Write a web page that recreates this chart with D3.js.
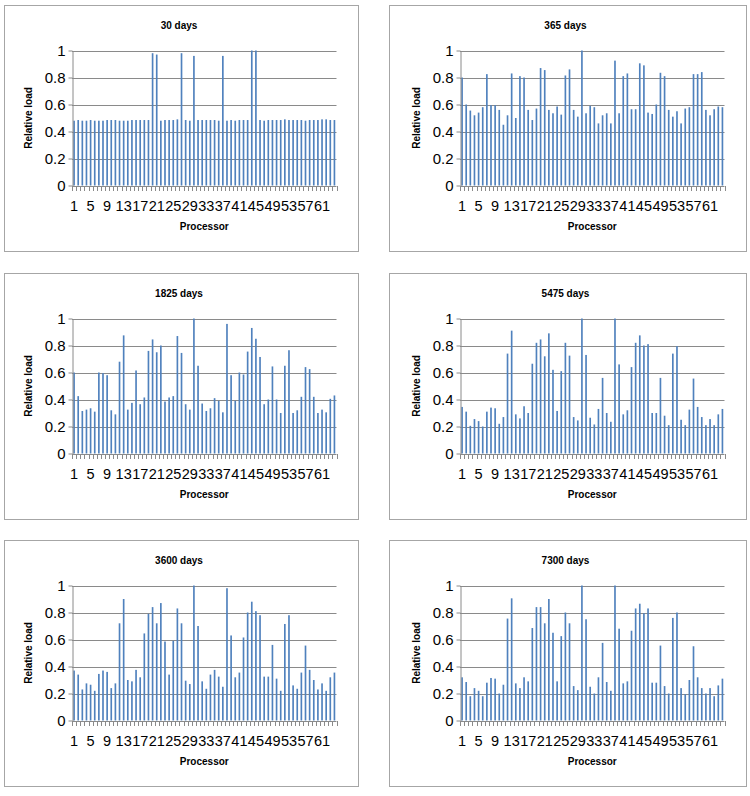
<!DOCTYPE html>
<html>
<head>
<meta charset="utf-8">
<script src="https://cdn.jsdelivr.net/npm/d3@7"></script>
<style>
    body { margin: 0; background: #fff; }
    svg text { font-family: "Liberation Sans", Arial, sans-serif; fill: #000; }
</style>
</head>
<body>
<script>
// categories
const processors = d3.range(1, 65);
const xTickLabels = [1, 5, 9, 13, 17, 21, 25, 29, 33, 37, 41, 45, 49, 53, 57, 61];
const yTicks = [0, 0.2, 0.4, 0.6, 0.8, 1];

// relative load per processor
const load30 = [0.48, 0.485, 0.48, 0.48, 0.485, 0.48, 0.48, 0.48, 0.485, 0.485, 0.485, 0.48, 0.48, 0.48, 0.485, 0.485,
    0.485, 0.485, 0.485, 0.98, 0.97, 0.48, 0.485, 0.485, 0.485, 0.49, 0.98, 0.485, 0.48, 0.96, 0.485, 0.485,
    0.485, 0.485, 0.485, 0.48, 0.96, 0.48, 0.485, 0.48, 0.485, 0.485, 0.485, 1, 1, 0.485, 0.48, 0.485,
    0.485, 0.485, 0.485, 0.49, 0.485, 0.485, 0.485, 0.485, 0.48, 0.485, 0.485, 0.485, 0.49, 0.49, 0.485, 0.485];
const load365 = [0.80, 0.60, 0.555, 0.52, 0.54, 0.58, 0.825, 0.595, 0.595, 0.56, 0.45, 0.52, 0.83, 0.50, 0.81, 0.80,
    0.56, 0.485, 0.57, 0.87, 0.855, 0.56, 0.535, 0.585, 0.525, 0.815, 0.86, 0.56, 0.51, 1.0, 0.535, 0.59,
    0.58, 0.46, 0.52, 0.535, 0.46, 0.925, 0.535, 0.81, 0.83, 0.565, 0.565, 0.905, 0.89, 0.54, 0.53, 0.60,
    0.835, 0.81, 0.56, 0.51, 0.55, 0.46, 0.57, 0.58, 0.825, 0.825, 0.84, 0.56, 0.52, 0.565, 0.585, 0.58];
const load1825 = [0.60, 0.425, 0.315, 0.325, 0.335, 0.31, 0.60, 0.595, 0.58, 0.32, 0.29, 0.68, 0.875, 0.325, 0.375, 0.615,
    0.365, 0.415, 0.76, 0.845, 0.75, 0.80, 0.385, 0.415, 0.425, 0.87, 0.745, 0.365, 0.325, 1.0, 0.65, 0.37,
    0.315, 0.335, 0.41, 0.39, 0.305, 0.96, 0.58, 0.39, 0.60, 0.585, 0.755, 0.93, 0.85, 0.715, 0.365, 0.40,
    0.645, 0.40, 0.30, 0.65, 0.765, 0.30, 0.32, 0.42, 0.64, 0.625, 0.42, 0.30, 0.325, 0.305, 0.405, 0.43];
const load5475 = [0.345, 0.31, 0.205, 0.255, 0.24, 0.20, 0.31, 0.34, 0.335, 0.22, 0.27, 0.74, 0.91, 0.29, 0.26, 0.35,
    0.30, 0.665, 0.82, 0.845, 0.72, 0.89, 0.62, 0.315, 0.61, 0.82, 0.725, 0.27, 0.245, 1.0, 0.73, 0.265,
    0.215, 0.33, 0.56, 0.30, 0.235, 1.0, 0.66, 0.29, 0.32, 0.64, 0.82, 0.875, 0.80, 0.81, 0.30, 0.30,
    0.56, 0.28, 0.21, 0.74, 0.795, 0.25, 0.21, 0.325, 0.555, 0.345, 0.27, 0.21, 0.255, 0.21, 0.29, 0.33];
const load3600 = [0.37, 0.34, 0.23, 0.275, 0.265, 0.22, 0.345, 0.37, 0.36, 0.24, 0.275, 0.72, 0.90, 0.30, 0.29, 0.375,
    0.32, 0.645, 0.79, 0.84, 0.72, 0.87, 0.585, 0.34, 0.59, 0.83, 0.72, 0.295, 0.27, 1.0, 0.70, 0.29,
    0.235, 0.34, 0.375, 0.325, 0.25, 0.98, 0.63, 0.32, 0.355, 0.615, 0.80, 0.88, 0.81, 0.78, 0.325, 0.325,
    0.56, 0.31, 0.22, 0.715, 0.78, 0.26, 0.235, 0.355, 0.555, 0.375, 0.30, 0.23, 0.275, 0.22, 0.32, 0.355];
const load7300 = [0.32, 0.285, 0.18, 0.24, 0.22, 0.18, 0.28, 0.315, 0.31, 0.20, 0.265, 0.755, 0.905, 0.275, 0.24, 0.32,
    0.29, 0.685, 0.84, 0.84, 0.72, 0.90, 0.65, 0.29, 0.625, 0.80, 0.72, 0.255, 0.225, 1.0, 0.75, 0.25,
    0.20, 0.32, 0.575, 0.285, 0.22, 1.0, 0.68, 0.275, 0.29, 0.665, 0.83, 0.865, 0.795, 0.83, 0.28, 0.28,
    0.555, 0.255, 0.20, 0.76, 0.80, 0.24, 0.195, 0.30, 0.55, 0.32, 0.24, 0.20, 0.24, 0.18, 0.26, 0.31];

const panels = [
    {title: "30 days", values: load30, col: 0, row: 0},
    {title: "365 days", values: load365, col: 1, row: 0},
    {title: "1825 days", values: load1825, col: 0, row: 1},
    {title: "5475 days", values: load5475, col: 1, row: 1},
    {title: "3600 days", values: load3600, col: 0, row: 2},
    {title: "7300 days", values: load7300, col: 1, row: 2}
];

// layout
const boxX = [4, 389], boxY = [5, 273, 540];
const boxW = [354, 357], boxH = 246;
const plotLeft = [68, 71], plotW = 264.5;
const plotTop = 45.5, plotH = 135;
const grey = "#8a8a8a";

const svg = d3.select("body").append("svg")
    .attr('width', 750)
    .attr('height', 796);

panels.forEach((p) => {
    const px = plotLeft[p.col];
    const g = svg.append("g")
        .attr('transform', `translate(${boxX[p.col]}, ${boxY[p.row]})`);

    g.append("rect")
        .attr('x', 0.5).attr('y', 0.5)
        .attr('width', boxW[p.col]).attr('height', boxH)
        .attr('fill', '#fff')
        .attr('stroke', '#a6a6a6');

    // Scales
    const x = d3.scaleBand()
        .domain(processors)
        .range([px, px + plotW])
        .paddingInner(0.6)
        .paddingOuter(0.3);

    const y = d3.scaleLinear()
        .domain([0, 1])
        .range([plotTop + plotH, plotTop]);

    // Gridlines
    g.selectAll("line.grid").data(yTicks).enter().append("line")
        .attr('class', 'grid')
        .attr('x1', px).attr('x2', px + plotW)
        .attr('y1', (d) => Math.round(y(d)) + 0.5)
        .attr('y2', (d) => Math.round(y(d)) + 0.5)
        .attr('stroke', grey);

    // Bars
    g.selectAll("rect.bar").data(p.values).enter().append("rect")
        .attr('class', 'bar')
        .attr('x', (d, i) => x(processors[i]))
        .attr('y', (d) => y(d))
        .attr('width', x.bandwidth())
        .attr('height', (d) => y(0) - y(d))
        .attr('fill', '#4f81bd');

    // Y axis
    const yAxis = g.append("g")
        .attr('transform', `translate(${Math.round(px) + 0.5}, 0)`)
        .call(d3.axisLeft(y).tickValues(yTicks).tickSize(4).tickSizeOuter(0)
            .tickPadding(3).tickFormat(d3.format("~g")));
    yAxis.selectAll("text").style('font-size', '15px');
    yAxis.selectAll("line, path").attr('stroke', grey);

    // X axis: labels, then tick marks between categories
    const xAxis = g.append("g")
        .attr('transform', `translate(0, ${Math.round(y(0)) + 0.5})`)
        .call(d3.axisBottom(x).tickValues(xTickLabels).tickSize(0).tickPadding(14));
    xAxis.select(".domain").remove();
    xAxis.selectAll("text").style('font-size', '14.5px');

    const bounds = processors.map((d) => x(d) - x.step() * 0.3);
    bounds.push(px + plotW);
    g.selectAll("line.xtick").data(bounds).enter().append("line")
        .attr('class', 'xtick')
        .attr('x1', (d) => Math.round(d) + 0.5).attr('x2', (d) => Math.round(d) + 0.5)
        .attr('y1', Math.round(y(0))).attr('y2', Math.round(y(0)) + 5)
        .attr('stroke', grey);

    // Titles
    g.append("text")
        .attr('x', boxW[p.col] / 2 - 2)
        .attr('y', 23.5)
        .attr('text-anchor', 'middle')
        .attr('font-size', '10px')
        .attr('font-weight', 'bold')
        .text(p.title);

    g.append("text")
        .attr('transform', `translate(${px - 40}, ${plotTop + plotH / 2}) rotate(-90)`)
        .attr('text-anchor', 'middle')
        .attr('font-size', '10px')
        .attr('font-weight', 'bold')
        .text("Relative load");

    g.append("text")
        .attr('x', px + plotW / 2)
        .attr('y', 225)
        .attr('text-anchor', 'middle')
        .attr('font-size', '10px')
        .attr('font-weight', 'bold')
        .text("Processor");
});
</script>
</body>
</html>
